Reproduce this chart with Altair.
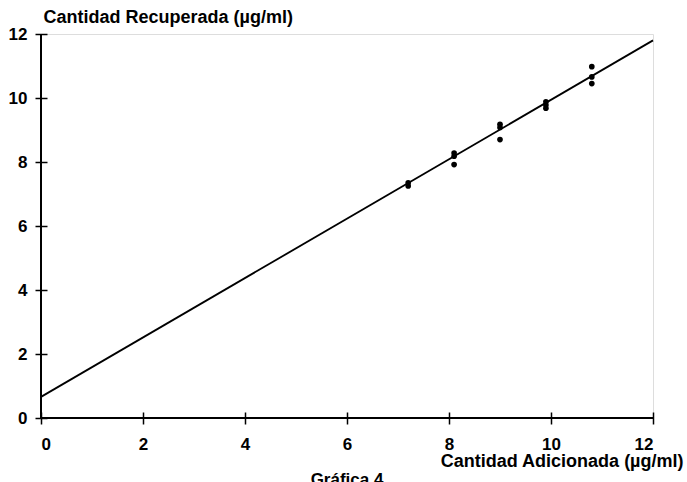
import altair as alt
import pandas as pd

# Data
added = [7.2, 7.2, 8.1, 8.1, 8.1, 9.0, 9.0, 9.0, 9.9, 9.9, 9.9, 10.8, 10.8, 10.8]
recovered = [7.35, 7.25, 8.28, 8.18, 7.92, 9.18, 9.08, 8.70, 9.88, 9.78, 9.68, 10.98, 10.66, 10.45]

line_x = [0, 12]
line_y = [0.66, 11.8]

x_ticks = [0, 2, 4, 6, 8, 10, 12]
y_ticks = [0, 2, 4, 6, 8, 10, 12]

pts = pd.DataFrame({"x": added, "y": recovered})
fit = pd.DataFrame({"x": line_x, "y": line_y})
xaxis_line = pd.DataFrame({"x": [0], "x2": [12], "y": [0]})
yaxis_line = pd.DataFrame({"x": [0], "y": [0], "y2": [12]})

FONT = "Liberation Sans"

xscale = alt.Scale(domain=[0, 12], nice=False, zero=False)
yscale = alt.Scale(domain=[0, 12], nice=False, zero=False)

x_enc = alt.X(
    "x:Q", scale=xscale,
    axis=alt.Axis(
        values=x_ticks, title="Cantidad Adicionada (µg/ml)", domain=False, grid=False,
        offset=-6, tickSize=12, tickColor="black", tickWidth=1.5,
        labelFont=FONT, labelFontSize=17, labelFontWeight="bold", labelColor="black",
        labelPadding=12,
        titleFont=FONT, titleFontSize=18, titleFontWeight="bold", titleColor="black",
        titleAnchor="end", titleAlign="right", titleX=642, titleY=54,
        titleBaseline="alphabetic",
    ),
)
y_enc = alt.Y(
    "y:Q", scale=yscale,
    axis=alt.Axis(
        values=y_ticks, title="Cantidad Recuperada (µg/ml)", domain=False, grid=False,
        offset=-6, tickSize=12, tickColor="black", tickWidth=1.5,
        labelFont=FONT, labelFontSize=17, labelFontWeight="bold", labelColor="black",
        labelPadding=8,
        titleFont=FONT, titleFontSize=18, titleFontWeight="bold", titleColor="black",
        titleAngle=0, titleAlign="left", titleBaseline="alphabetic",
        titleX=-4, titleY=-12,
    ),
)

points = alt.Chart(pts).mark_point(
    filled=True, color="black", size=32, shape="circle", opacity=1
).encode(x=x_enc, y=y_enc)

line = alt.Chart(fit).mark_line(color="black", strokeWidth=1.8).encode(
    x=alt.X("x:Q", scale=xscale), y=alt.Y("y:Q", scale=yscale)
)

xl = alt.Chart(xaxis_line).mark_rule(color="black", strokeWidth=2).encode(
    x=alt.X("x:Q", scale=xscale), x2="x2:Q", y=alt.Y("y:Q", scale=yscale)
)
yl = alt.Chart(yaxis_line).mark_rule(color="black", strokeWidth=2).encode(
    x=alt.X("x:Q", scale=xscale), y=alt.Y("y:Q", scale=yscale), y2="y2:Q"
)

chart = alt.layer(points, line, xl, yl).properties(
    width=612, height=384,
    autosize=alt.AutoSizeParams(type="none"),
    padding={"left": 41, "top": 34, "right": 34, "bottom": 64},
    title=alt.TitleParams(
        "Gráfica 4", orient="bottom", anchor="middle", font=FONT, fontSize=17,
        fontWeight="bold", color="black", offset=2, dx=0,
    ),
).configure_view(stroke=None).configure(background="white")

chart.save("out.html", embed_options={"renderer": "svg", "actions": False})
